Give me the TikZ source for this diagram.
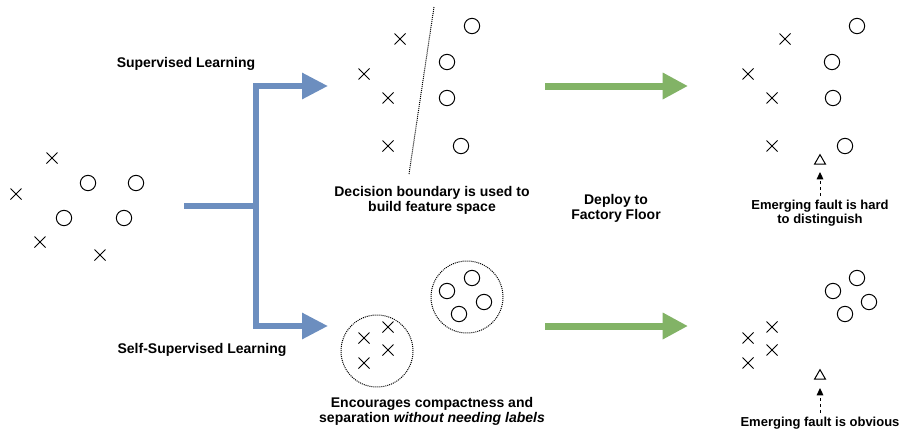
\documentclass[tikz,border=0pt]{standalone}
\usepackage{fontspec}
\setmainfont{Liberation Sans}
\usetikzlibrary{arrows.meta,shapes.misc,shapes.geometric}
\definecolor{dblue}{HTML}{6C8EBF}
\definecolor{dgreen}{HTML}{82B366}
\begin{document}
\begin{tikzpicture}[x=0.75pt,y=-0.75pt,
  xm/.style={cross out,draw,minimum size=7.5pt,inner sep=0pt,line width=0.75pt},
  om/.style={circle,draw,minimum size=11.5pt,inner sep=0pt,line width=0.75pt},
  tm/.style={regular polygon,regular polygon sides=3,draw,minimum size=9.5pt,inner sep=0pt,line width=0.75pt},
  grp/.style={circle,draw,minimum size=54pt,inner sep=0pt,line width=0.75pt,dash pattern=on 0.75pt off 0.75pt},
  lbl/.style={font=\fontsize{10.5}{11.25}\selectfont\bfseries,align=center,inner sep=0pt},
  slbl/.style={font=\fontsize{9.75}{10.5}\selectfont\bfseries,align=center,inner sep=0pt},
  blueline/.style={draw=dblue,line width=4.5pt,line join=miter},
  bluetip/.style={-{Triangle[length=19.5pt,width=18.75pt]},dblue},
  greenarrow/.style={draw=dgreen,line width=5.25pt,-{Triangle[length=19pt,width=18.75pt]}},
  faultarrow/.style={draw=black,line width=0.75pt,dash pattern=on 2.25pt off 2.25pt,-{Triangle[length=5.5pt,width=5pt]}},
  boundary/.style={draw=black,line width=0.75pt,dash pattern=on 0.75pt off 0.75pt}]
\useasboundingbox (0,0) rectangle (902,433);
% left raw data
\node[xm] (lx1) at (52,158) {};
\node[xm] (lx2) at (16,194) {};
\node[xm] (lx3) at (40,242) {};
\node[xm] (lx4) at (100,255) {};
\node[om] (lo1) at (88,183) {};
\node[om] (lo2) at (136,183) {};
\node[om] (lo3) at (64,218) {};
\node[om] (lo4) at (124,218) {};
% blue branching arrow
\coordinate (bstart) at (184,206);
\coordinate (bj) at (256,206);
\coordinate (btip) at (328,86);
\coordinate (bbot) at (328,326);
\draw[blueline] (bstart) -- (bj);
\draw[blueline,bluetip] (bj) |- (btip);
\draw[blueline,bluetip] (bj) |- (bbot);
\node[lbl] (sup) at (186,64) {Supervised Learning};
\node[lbl] (ssl) at (202,350) {Self-Supervised Learning};
% supervised feature space
\node[xm] (sx1) at (400,39) {};
\node[xm] (sx2) at (364,74) {};
\node[xm] (sx3) at (388,98) {};
\node[xm] (sx4) at (388,146) {};
\node[om] (so1) at (472,26) {};
\node[om] (so2) at (447,62) {};
\node[om] (so3) at (447,98) {};
\node[om] (so4) at (461,146) {};
\coordinate (db1) at (434,7);
\coordinate (db2) at (409,174);
\draw[boundary] (db1) -- (db2);
\node[lbl] (dec) at (432,200) {Decision boundary is used to\\build feature space};
% self-supervised feature space
\node[grp] (g1) at (377,351) {};
\node[grp] (g2) at (467,297) {};
\node[xm] (cx1) at (388,327) {};
\node[xm] (cx2) at (364,338) {};
\node[xm] (cx3) at (388,350) {};
\node[xm] (cx4) at (364,363) {};
\node[om] (co1) at (472,278) {};
\node[om] (co2) at (447,291) {};
\node[om] (co3) at (484,302) {};
\node[om] (co4) at (459,314) {};
\node[lbl] (enc) at (432,411) {Encourages compactness and\\separation \textit{without needing labels}};
% deploy arrows
\coordinate (ga1) at (545,86);
\coordinate (ga2) at (688,86);
\coordinate (gb1) at (545,326);
\coordinate (gb2) at (688,326);
\draw[greenarrow] (ga1) -- (ga2);
\draw[greenarrow] (gb1) -- (gb2);
\node[lbl] (dep) at (616,208) {Deploy to\\Factory Floor};
% deployed supervised
\node[xm] (rx1) at (785,39) {};
\node[xm] (rx2) at (748,74) {};
\node[xm] (rx3) at (772,98) {};
\node[xm] (rx4) at (772,146) {};
\node[om] (ro1) at (857,26) {};
\node[om] (ro2) at (832,62) {};
\node[om] (ro3) at (833,98) {};
\node[om] (ro4) at (845,146) {};
\node[tm] (rt) at (820,161) {};
\node[slbl] (fh) at (820,213) {Emerging fault is hard\\to distinguish};
\coordinate (fhtip) at (820,172);
\draw[faultarrow] ([yshift=3pt]fh.north) -- (fhtip);
% deployed self-supervised
\node[xm] (qx1) at (772,327) {};
\node[xm] (qx2) at (748,338) {};
\node[xm] (qx3) at (772,350) {};
\node[xm] (qx4) at (748,363) {};
\node[om] (qo1) at (857,278) {};
\node[om] (qo2) at (833,291) {};
\node[om] (qo3) at (869,302) {};
\node[om] (qo4) at (845,314) {};
\node[tm] (qt) at (820,376) {};
\node[slbl] (fo) at (820,423) {Emerging fault is obvious};
\coordinate (fotip) at (820,388);
\draw[faultarrow] ([yshift=3pt]fo.north) -- (fotip);
\end{tikzpicture}
\end{document}
